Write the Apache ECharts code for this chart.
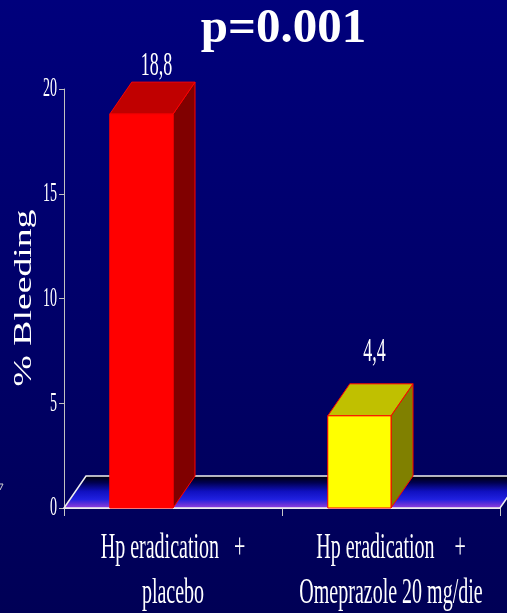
<!DOCTYPE html>
<html>
<head>
<meta charset="utf-8">
<script src="https://cdn.jsdelivr.net/npm/echarts@6/dist/echarts.min.js"></script>
<style>
  html, body { margin: 0; padding: 0; background: #00006a; }
  #chart { width: 507px; height: 613px; }
</style>
</head>
<body>
<div id="chart"></div>
<script>
// Bleeding rate per treatment arm
const categories = [
  ['Hp eradication\u00a0\u00a0\u00a0+', 'placebo'],
  ['Hp eradication\u00a0\u00a0\u00a0\u00a0+', 'Omeprazole 20 mg/die']
];
const bleedingPct = [18.8, 4.4];
const valueLabels = ['18,8', '4,4'];
const yTicks = [0, 5, 10, 15, 20];
const titleText = 'p=0.001';
const yAxisTitle = '% Bleeding';

// face colours for each bar: front, top, side
const frontColors = ['#ff0000', '#ffff00'];
const topColors = ['#c00000', '#c0c000'];
const sideColors = ['#800000', '#808000'];

// oblique depth of the 3D bars and floor, in pixels
const DX = 22, DY = 32;
const SERIF = '"Liberation Serif", "Times New Roman", serif';

const chart = echarts.init(document.getElementById('chart'), null, { renderer: 'canvas' });

const option = {
  animation: false,
  backgroundColor: {
    type: 'linear', x: 0, y: 0, x2: 0, y2: 1,
    colorStops: [{ offset: 0, color: '#00007c' }, { offset: 1, color: '#000056' }]
  },
  grid: { left: 64, right: 7, top: 89, bottom: 105 },
  xAxis: {
    type: 'category',
    data: categories.map(c => c[0]),
    axisLine: { lineStyle: { color: '#e0e0e0', width: 1 } },
    axisTick: { show: true, length: 8, lineStyle: { color: '#c8c8c8' } },
    axisLabel: { show: false }
  },
  yAxis: {
    type: 'value', min: 0, max: 20, interval: 5,
    axisLine: { show: true, lineStyle: { color: '#c0c0c0', width: 1 } },
    axisTick: { show: true, length: 5, lineStyle: { color: '#c0c0c0' } },
    axisLabel: { show: false },
    splitLine: { show: false }
  },
  graphic: [
    {
      type: 'text', x: 283.5, y: 29, z: 10,
      style: {
        text: titleText, font: 'bold 49px ' + SERIF, fill: '#ffffff',
        align: 'center', verticalAlign: 'middle',
        textShadowColor: '#000000', textShadowOffsetX: 3, textShadowOffsetY: 3, textShadowBlur: 0
      }
    },
    {
      type: 'text', x: 24, y: 298, rotation: Math.PI / 2, scaleX: 1.45, z: 10,
      style: {
        text: yAxisTitle, font: '26px ' + SERIF, fill: '#ffffff',
        align: 'center', verticalAlign: 'middle'
      }
    },
    {
      type: 'polyline', z: 10,
      shape: { points: [[0, 484], [3, 484], [0, 490]] },
      style: { stroke: '#d0d0d0', lineWidth: 1, fill: null }
    }
  ],
  series: [
    {
      // oblique floor under the bars
      type: 'custom', z: 1,
      data: [[0, 0]],
      encode: { x: 0, y: 1 },
      renderItem: function (params, api) {
        const cs = params.coordSys;
        const y0 = api.coord([0, 0])[1];
        const xl = cs.x, xr = cs.x + cs.width;
        return {
          type: 'group',
          children: [
            {
              type: 'polygon',
              shape: { points: [[xl, y0], [xl + DX, y0 - DY], [xr + DX, y0 - DY], [xr, y0]] },
              style: {
                fill: {
                  type: 'linear', x: 0, y: 0, x2: 0, y2: 1,
                  colorStops: [
                    { offset: 0, color: '#000000' },
                    { offset: 0.22, color: '#000050' },
                    { offset: 0.48, color: '#1010c0' },
                    { offset: 0.72, color: '#2020e0' },
                    { offset: 0.86, color: '#6030d8' },
                    { offset: 1, color: '#9a40e0' }
                  ]
                },
                stroke: '#f0f0f0', lineWidth: 1.5
              }
            }
          ]
        };
      }
    },
    {
      // 3D bars with value labels
      type: 'custom', z: 3,
      data: bleedingPct.map((v, i) => [i, v]),
      encode: { x: 0, y: 1 },
      renderItem: function (params, api) {
        const idx = api.value(0);
        const val = api.value(1);
        const base = api.coord([idx, 0]);
        const top = api.coord([idx, val]);
        const band = api.size([1, 0])[0];
        const w = band * 0.29;
        const x1 = base[0] - w, x2 = base[0];
        const y0 = base[1], y1 = top[1];
        const edge = { stroke: '#ff0000', lineWidth: 1 };
        const labelY = Math.max(y1 - DY - 31.5, params.coordSys.y - 23);
        return {
          type: 'group',
          children: [
            {
              type: 'polygon',
              shape: { points: [[x2, y0], [x2 + DX, y0 - DY], [x2 + DX, y1 - DY], [x2, y1]] },
              style: Object.assign({ fill: sideColors[idx] }, edge)
            },
            {
              type: 'polygon',
              shape: { points: [[x1, y1], [x1 + DX, y1 - DY], [x2 + DX, y1 - DY], [x2, y1]] },
              style: Object.assign({ fill: topColors[idx] }, edge)
            },
            {
              type: 'rect',
              shape: { x: x1, y: y1, width: w, height: y0 - y1 },
              style: Object.assign({ fill: frontColors[idx] }, edge)
            },
            {
              type: 'text',
              x: x1 + w / 2 + DX / 2 + 4, y: labelY, scaleY: 1.85,
              style: {
                text: valueLabels[idx], font: '18px ' + SERIF, fill: '#ffffff',
                align: 'center', verticalAlign: 'middle'
              }
            }
          ]
        };
      }
    },
    {
      // y tick labels
      type: 'custom', z: 4,
      data: yTicks.map(t => [0, t]),
      encode: { x: 0, y: 1 },
      renderItem: function (params, api) {
        const p = api.coord([0, api.value(1)]);
        return {
          type: 'text',
          x: params.coordSys.x - 7, y: p[1], scaleY: 2.0,
          style: {
            text: String(api.value(1)), font: '14px ' + SERIF, fill: '#ffffff',
            align: 'right', verticalAlign: 'middle'
          }
        };
      }
    },
    {
      // two-line category labels
      type: 'custom', z: 4,
      data: categories.map((c, i) => [i, 0]),
      encode: { x: 0, y: 1 },
      renderItem: function (params, api) {
        const idx = api.value(0);
        const p = api.coord([idx, 0]);
        const lines = categories[idx];
        return {
          type: 'group',
          children: lines.map((t, k) => ({
            type: 'text',
            x: p[0], y: p[1] + 40.5 + k * 45, scaleY: 1.75,
            style: {
              text: t, font: '20px ' + SERIF, fill: '#ffffff',
              align: 'center', verticalAlign: 'middle'
            }
          }))
        };
      }
    }
  ]
};

chart.setOption(option);
</script>
</body>
</html>
